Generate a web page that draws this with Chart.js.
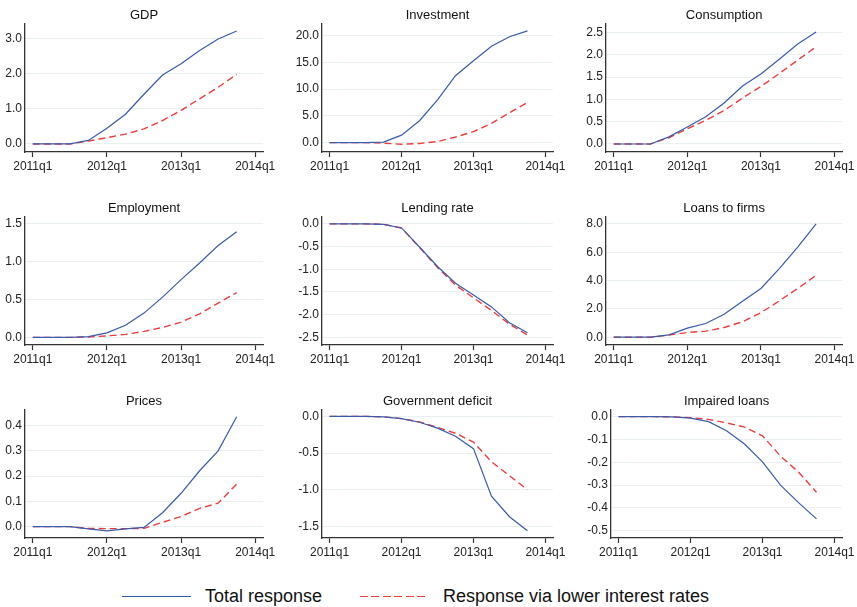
<!DOCTYPE html>
<html>
<head>
<meta charset="utf-8">
<script src="https://cdn.jsdelivr.net/npm/chart.js@4.4.1/dist/chart.umd.min.js"></script>
<style>
  body { margin: 0; background: #fff; width: 857px; height: 607px; position: relative; overflow: hidden;
         font-family: "Liberation Sans", Arial, sans-serif; }
  canvas { position: absolute; }
  .legtext { position: absolute; top: 585px; font-size: 18px; line-height: 22px; color: #111; white-space: nowrap; }
  .legline { position: absolute; top: 596px; height: 0; }
</style>
</head>
<body>
<div class="legline" style="left:122px;width:69px;border-top:1.5px solid #3a5bab"></div>
<div class="legtext" style="left:205px">Total response</div>
<div class="legline" style="left:360px;width:67px;height:1.5px;top:595.5px;background:repeating-linear-gradient(to right,#f03c3c 0 8px,transparent 8px 11.5px)"></div>
<div class="legtext" style="left:443px">Response via lower interest rates</div>

<script>
// quarters 2011q1 .. 2013q4
const quarters = ['2011q1','2011q2','2011q3','2011q4','2012q1','2012q2','2012q3','2012q4','2013q1','2013q2','2013q3','2013q4'];
const xTickPos = [0, 4, 8, 12];
const xTickLabels = ['2011q1', '2012q1', '2013q1', '2014q1'];

const titles = ['GDP', 'Investment', 'Consumption', 'Employment', 'Lending rate', 'Loans to firms',
                'Prices', 'Government deficit', 'Impaired loans'];

const gdpTotal = [0, 0, 0, 0.1, 0.45, 0.85, 1.42, 1.97, 2.29, 2.67, 3.0, 3.23];
const gdpRate  = [0, 0, 0, 0.08, 0.18, 0.28, 0.43, 0.67, 0.96, 1.29, 1.62, 1.99];
const invTotal = [0, 0, 0, 0.1, 1.4, 4.1, 8.0, 12.5, 15.3, 18.0, 19.8, 20.9];
const invRate  = [0, 0, 0, -0.1, -0.3, -0.15, 0.2, 1.05, 2.05, 3.6, 5.6, 7.5];
const conTotal = [0, 0, 0, 0.16, 0.38, 0.61, 0.92, 1.30, 1.57, 1.90, 2.24, 2.51];
const conRate  = [0, 0, 0, 0.14, 0.34, 0.53, 0.75, 1.03, 1.29, 1.58, 1.88, 2.18];
const empTotal = [0, 0, 0, 0.01, 0.06, 0.16, 0.32, 0.53, 0.76, 0.98, 1.21, 1.39];
const empRate  = [0, 0, 0, 0.005, 0.02, 0.04, 0.08, 0.13, 0.20, 0.31, 0.45, 0.59];
const lendTotal = [0, 0, 0, -0.01, -0.09, -0.51, -0.94, -1.31, -1.57, -1.83, -2.18, -2.40];
const lendRate  = [0, 0, 0, -0.01, -0.09, -0.52, -0.96, -1.35, -1.63, -1.91, -2.21, -2.45];
const loanTotal = [0, 0, 0, 0.17, 0.64, 0.97, 1.62, 2.54, 3.44, 4.85, 6.37, 8.0];
const loanRate  = [0, 0, 0, 0.15, 0.33, 0.43, 0.69, 1.09, 1.73, 2.57, 3.44, 4.37];
const priceTotal = [0, 0, 0, -0.009, -0.017, -0.009, -0.003, 0.055, 0.132, 0.221, 0.30, 0.435];
const priceRate  = [0, 0, 0, -0.007, -0.008, -0.008, -0.007, 0.017, 0.04, 0.072, 0.093, 0.168];
const govTotal = [0, 0, 0, -0.005, -0.03, -0.08, -0.16, -0.27, -0.44, -1.09, -1.37, -1.56];
const govRate  = [0, 0, 0, -0.005, -0.03, -0.075, -0.15, -0.23, -0.35, -0.62, -0.81, -1.0];
const impTotal = [0, 0, 0, -0.001, -0.006, -0.022, -0.062, -0.12, -0.198, -0.30, -0.377, -0.448];
const impRate  = [0, 0, 0, -0.001, -0.004, -0.012, -0.027, -0.046, -0.084, -0.173, -0.243, -0.331];

const totals = [gdpTotal, invTotal, conTotal, empTotal, lendTotal, loanTotal, priceTotal, govTotal, impTotal];
const rates  = [gdpRate, invRate, conRate, empRate, lendRate, loanRate, priceRate, govRate, impRate];

// y axis: [min, max, step]
const yAxes = [
  [-0.23, 3.44, 1], [-1.75, 22.25, 5], [-0.18, 2.70, 0.5],
  [-0.10, 1.59, 0.5], [-2.67, 0.16, 0.5], [-0.55, 8.52, 2],
  [-0.045, 0.463, 0.1], [-1.66, 0.093, 0.5], [-0.532, 0.031, 0.1]
];

// layout of the 3x3 grid
const colLeft = [0, 285, 570];
const colWidth = [285, 285, 287];
const yAxisWidth = [25, 37, 36];
const padRight = [22, 17, 13];
const rowTop = [0, 193, 386];
const H = 190;

const BLUE = '#3a5bab', RED = '#f03c3c', AXIS = '#333', GRID = '#e8f0f1';
const font = { family: '"Liberation Sans", Arial, sans-serif', size: 12 };

for (let k = 0; k < 9; k++) {
  const r = Math.floor(k / 3), c = k % 3;
  const cv = document.createElement('canvas');
  cv.width = colWidth[c];
  cv.height = H;
  cv.style.left = colLeft[c] + 'px';
  cv.style.top = rowTop[r] + 'px';
  cv.style.width = colWidth[c] + 'px';
  cv.style.height = H + 'px';
  document.body.appendChild(cv);

  const [ymin, ymax, step] = yAxes[k];
  const yw = (k === 8) ? 41 : yAxisWidth[c];

  new Chart(cv, {
    type: 'line',
    data: {
      datasets: [
        {
          label: 'Total response',
          data: totals[k].map((v, i) => ({ x: i, y: v })),
          borderColor: BLUE, borderWidth: 1.2, pointRadius: 0, tension: 0
        },
        {
          label: 'Response via lower interest rates',
          data: rates[k].map((v, i) => ({ x: i, y: v })),
          borderColor: RED, borderWidth: 1.4, borderDash: [7, 4], pointRadius: 0, tension: 0
        }
      ]
    },
    options: {
      responsive: false,
      animation: false,
      layout: { padding: { left: 0, right: padRight[c], top: 0, bottom: 8 } },
      plugins: {
        legend: { display: false },
        tooltip: { enabled: false },
        title: {
          display: true, text: titles[k], color: '#111', fullSize: false,
          font: { family: font.family, size: 13, weight: 'normal' },
          padding: { top: 8, bottom: 0 }
        }
      },
      scales: {
        x: {
          type: 'linear', min: -0.42, max: 12.42,
          afterBuildTicks: s => { s.ticks = xTickPos.map(v => ({ value: v })); },
          afterFit: s => { s.height = 30; },
          ticks: {
            autoSkip: false, maxRotation: 0, padding: 2, color: '#222', font: font,
            callback: v => xTickLabels[xTickPos.indexOf(v)]
          },
          grid: { drawOnChartArea: false, drawTicks: true, tickLength: 5, tickColor: AXIS, tickWidth: 1.2 },
          border: { display: true, color: AXIS, width: 1.3 }
        },
        y: {
          min: ymin, max: ymax,
          afterFit: s => { s.width = yw; },
          ticks: {
            stepSize: step, includeBounds: false, padding: 3, color: '#222', font: font,
            callback: v => Number(v).toFixed(1)
          },
          grid: { color: GRID, lineWidth: 1, drawTicks: false },
          border: { display: true, color: AXIS, width: 1.3 }
        }
      }
    }
  });
}
</script>
</body>
</html>
